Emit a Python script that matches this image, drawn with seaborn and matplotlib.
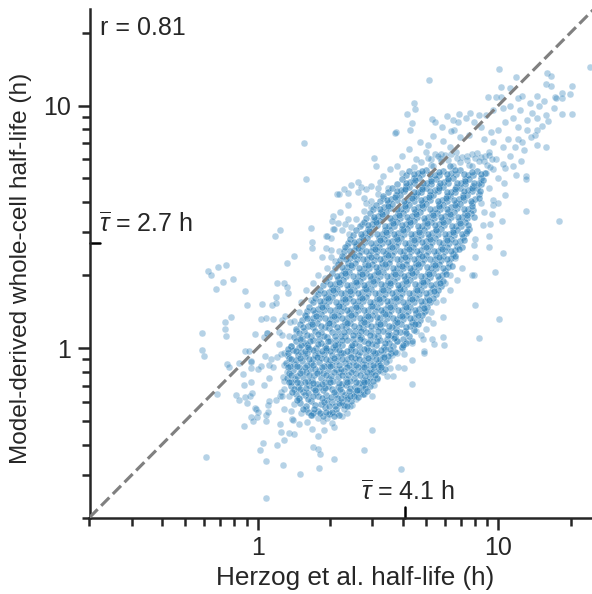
import matplotlib
matplotlib.use("Agg")
import numpy as np
import pandas as pd
import seaborn as sns
import matplotlib.pyplot as plt
from matplotlib.ticker import FixedLocator, FixedFormatter, LogLocator, NullFormatter

# All pairs are (log10 Herzog half-life, log10 model half-life).
# sparse_* : outlying points (a few in the fringe are estimates).
# core_*   : NOT individual readings. The reference's dense centre holds thousands of overlapping
#            points that cannot be read, so these are far fewer hand-placed, roughly evenly spaced
#            points that only reproduce the outline and colour of that cloud, drawn at higher alpha.
sparse_low_left = [
(-.207,.317),(-.195,.303),(-.165,.335),(-.13,.344),(-.144,.273),(-.102,.286),(-.173,.244),(-.054,.234),(-.046,.179),
(-.111,.129),(-.136,.106),(-.136,.08),(-.132,.048),(-.232,.061),(-.232,-.008),(-.225,-.033),(-.126,-.067),(-.12,-.08),
(-.078,-.061),(-.061,-.109),(-.057,-.153),(-.029,-.142),(-.028,-.081),(-.029,-.057),(-.027,-.054),(-.053,-.012),(-.034,-.011),
(-.012,.058),(.014,.121),(.036,.123),(.065,.119),(.019,.183),(.058,.179),(.078,.187),(.076,.211),(.082,.27),(.109,.267),
(.123,.251),(.126,.226),(.122,.351),(.037,.063),(.04,.06),(.026,.044),(.1,.116),(.112,.132),(.133,.107),(.09,.067),(.102,.052),
(.087,.017),(.029,-.033),(.012,-.074),(.003,-.086),(.057,-.045),(.047,-.072),(.065,-.077),(.082,-.036),(.095,-.026),(.11,-.022),
(.046,-.123),(.026,-.154),(.105,-.121),(.111,-.135),(-.167,-.191),(-.09,-.193),(-.076,-.215),(-.053,-.202),(-.045,-.226),
(-.033,-.198),(-.022,-.187),(-.011,-.247),(-.008,-.252),(.001,-.264),(-.026,-.285),(-.018,-.302),(-.001,-.284),(-.058,-.321),
(.036,-.3),(.036,-.278),(.043,-.263),(.043,-.233),(.049,-.22),(.076,-.215),(.091,-.198),(.095,-.18),(.1,-.2),(.109,-.253),
(.093,-.313),(.098,-.347),(.111,-.379),(.131,-.352),(.151,-.354),(.08,-.398),(.021,-.39),(.011,-.419),(.033,-.464),(.105,-.481),
(-.213,-.45),(.034,-.617),(.177,-.518),(.254,-.493),(.317,-.457),(.232,-.408),(.249,-.417),(.261,-.439),(.252,-.361),(.17,-.314),
(.141,-.293),(.145,-.298),(.206,-.305),(.225,-.332),(.275,-.339),(.317,-.325),(.224,-.277),
]
sparse_low_right = [
(.988,.313),(.898,.302),(.89,.302),(.902,.176),(1.003,.119),(.92,.043),(.772,.128),(.707,.119),(.727,.105),(.769,.047),(.773,.011),
(.726,.038),(.734,.015),(.693,-.012),(.69,-.02),(.68,.052),(.688,.038),(.642,-.051),(.64,.022),(.621,.029),(.61,-.024),(.58,-.022),
(.607,-.083),(.582,-.077),(.545,-.05),(.548,-.081),(.538,-.117),(.561,-.117),(.642,-.15),(.508,-.091),(.494,-.127),(.47,-.105),
(.483,-.154),(.434,-.16),(.407,-.178),(.427,-.187),(.476,-.2),(.393,-.237),(.372,-.266),(.344,-.237),(.372,-.201),(.474,-.34),
(.441,-.421),(.595,-.497),(.36,-.25),(.385,-.24),(.35,-.28),(.33,-.27),(.31,-.31),(.29,-.29),(.27,-.3),(.25,-.29),(.3,-.27),
(.66,.07),(.7,.08),(.65,.1),(.72,.15),(.69,.15),(.74,.19),(.77,.2),(.8,.24),(.78,.27),(.83,.28),(.8,.3),(.85,.33),(.82,.37),
(.58,.03),(.6,.0),(.56,-.03),(.52,-.04),(.5,-.07),(.52,-.1),(.46,-.14),(.44,-.19),(.41,-.21),
]
sparse_top = [
(1.382,1.158),(1.003,1.149),(.711,1.106),(1.073,1.118),(1.203,1.132),(1.221,1.12),(1.2,1.087),(1.22,1.08),(1.01,1.077),(1.05,1.074),
(1.308,1.08),(1.297,1.048),(1.264,1.052),(1.235,1.036),(1.24,1.03),(1.264,1.032),(1.266,.964),(1.307,.966),(1.205,.935),(1.181,.917),
(1.163,.836),(1.2,.829),(1.154,.88),(1.135,.87),(.956,1.036),(.99,1.037),(1.01,1.037),(1.253,.524),(1.117,.565),(1.015,.524),(.937,.507),
(.966,.512),(.963,.463),(.963,.417),(1.018,.393),(.905,.377),(.898,.426),(.905,.45),(.974,.554),(.978,.59),(.978,.612),(1.024,.68),
(1.115,.711),(1.115,.695),(1.073,.715),(1.061,.749),(1.093,.773),(1.105,.818),(1.069,.83),(1.028,.741),(.649,1.01),(.654,.986),(.621,.964),
(.64,.928),(.634,.898),(.576,.891),(.57,.885),(.723,.946),(.738,.931),(.768,.912),(.787,.955),(.811,.939),(.836,.964),(.832,.93),(.881,.971),
(.867,.95),(.815,.898),(.805,.893),(.485,.782),(.492,.752),(.676,.848),(.71,.838),(.729,.873),(.77,.855),(.522,.711),(.51,.683),(.418,.686),
(.39,.671),(.358,.657),(.43,.665),(.451,.656),(.417,.645),(.375,.64),(.501,.636),(.44,.62),(.45,.60),(.47,.605),(.376,.59),(.344,.559),
(.444,.563),(.473,.58),(.375,.533),(.407,.534),(.432,.512),(.365,.51),(.39,.5),(.352,.485),(.38,.47),(.191,.847),(.202,.698),(.329,.633),
(.337,.633),(.312,.545),(.31,.525),(.335,.515),(.22,.495),(.093,.488),(.073,.463),(.312,.492),(.316,.49),(.282,.463),(.288,.46),(.304,.455),
(.225,.437),(.224,.412),(.282,.414),(.305,.405),(.151,.379),(.266,.375),(.305,.376),
(1.05,1.0),(1.08,1.03),(1.1,1.04),(1.13,1.01),(1.16,1.04),(1.17,1.0),(1.19,1.02),(1.23,.99),(1.2,.96),(1.14,.97),(1.09,.98),(1.06,.95),
(1.12,.94),(1.16,.95),(1.02,.99),(.98,.98),(.95,.96),(.92,.96),(1.03,.93),(1.08,.91),(1.12,.9),(1.16,.9),(1.0,.9),(.97,.89),(.93,.91),
(.9,.93),(1.04,.86),(1.08,.86),(1.1,.85),(1.02,.83),(.98,.85),(.94,.86),(1.05,.79),(1.02,.76),(.99,.78),(.96,.81),(.72,.78),(.76,.8),
(.7,.81),(.66,.78),(.63,.82),(.8,.83),(.84,.87),(.88,.88),(.6,.79),(.55,.74),(.58,.75),(.6,.72),(.54,.66),(.47,.67),(.5,.66),(.52,.62),
(.48,.53),(.41,.43),(.37,.42),(.36,.38),(.34,.4),(.32,.36),(.29,.33),(.28,.29),(.25,.3),(.23,.27),(.24,.23),(.2,.24),(.22,.2),(.18,.19),
(.17,.15),(.2,.13),(.15,.11),(.16,.07),(.13,.05),(.14,.01),(.12,-.03),(.11,-.07),(.12,-.1),(.11,-.17),(.13,-.2),(.15,-.23),(.14,-.26),
(.18,-.27),(.2,-.25),(.17,-.21),(1.0,.7),(1.03,.63),(1.0,.6),(.96,.66),(.98,.74),(.95,.72),(.94,.56),(.93,.6),
(.735,.8),(.78,.795),(.825,.81),(.87,.79),(.91,.805),(.945,.79),(.758,.785),(.802,.8),(.848,.788),(.89,.8),(.928,.786),(.962,.796),
(.71,.782),(.75,.79),(.79,.775),(.83,.785),(.87,.775),(.905,.785),(.94,.772),(.975,.78),(.68,.765),(.76,.77),(.84,.765),(.92,.77),
(.955,.755),(.72,.755),(.88,.755),(.65,.748),(.73,.752),(.81,.75),(.89,.752),(.965,.745),
]
core_low = [
(.23,-.27),(.27,-.28),(.31,-.265),(.34,-.275),(.2,-.24),(.24,-.235),(.28,-.245),(.32,-.24),(.36,-.235),
(.17,-.205),(.21,-.21),(.25,-.2),(.29,-.215),(.33,-.205),(.37,-.21),(.4,-.2),
(.15,-.17),(.19,-.18),(.23,-.165),(.27,-.175),(.31,-.17),(.35,-.18),(.385,-.165),(.42,-.175),(.445,-.165),
(.14,-.14),(.175,-.145),(.21,-.135),(.245,-.15),(.28,-.14),(.315,-.135),(.35,-.15),(.385,-.135),(.42,-.145),(.455,-.135),
(.13,-.105),(.165,-.115),(.2,-.1),(.235,-.11),(.27,-.105),(.305,-.115),(.34,-.1),(.375,-.11),(.41,-.105),(.445,-.115),(.475,-.1),
(.135,-.075),(.17,-.08),(.205,-.07),(.24,-.085),(.275,-.075),(.31,-.07),(.345,-.085),(.38,-.07),(.415,-.08),(.45,-.07),(.485,-.08),(.51,-.07),
(.13,-.04),(.16,-.05),(.195,-.035),(.23,-.045),(.265,-.04),(.3,-.05),(.335,-.035),(.37,-.045),(.405,-.04),(.44,-.05),(.475,-.035),(.51,-.045),(.54,-.035),
(.145,-.01),(.18,-.015),(.215,-.005),(.25,-.02),(.285,-.01),(.32,-.005),(.355,-.02),(.39,-.005),(.425,-.015),(.46,-.01),(.495,-.02),(.53,-.005),(.57,-.015),
(.16,.03),(.195,.02),(.23,.035),(.265,.02),(.3,.03),(.335,.015),(.37,.035),(.405,.02),(.44,.03),(.475,.015),(.51,.035),(.545,.02),(.58,.03),(.615,.02),
(.17,.06),(.205,.055),(.24,.07),(.275,.05),(.31,.065),(.345,.05),(.38,.07),(.415,.055),(.45,.065),(.485,.05),(.52,.07),(.555,.055),(.59,.065),(.63,.05),
(.175,.1),(.21,.09),(.245,.105),(.28,.085),(.315,.1),(.35,.09),(.385,.105),(.42,.085),(.455,.1),(.49,.09),(.525,.105),(.56,.085),(.595,.1),(.635,.09),(.665,.1),
(.195,.135),(.23,.125),(.265,.14),(.3,.12),(.335,.135),(.37,.125),(.405,.14),(.44,.12),(.475,.135),(.51,.125),(.545,.14),(.58,.12),(.615,.135),(.65,.125),(.685,.135),
(.215,.17),(.25,.16),(.285,.175),(.32,.155),(.355,.17),(.39,.16),(.425,.175),(.46,.155),(.495,.17),(.53,.16),(.565,.175),(.6,.155),(.635,.17),(.67,.16),(.705,.17),
(.24,.205),(.275,.195),(.31,.21),(.345,.19),(.38,.205),(.415,.195),(.45,.21),(.485,.19),(.52,.205),(.555,.195),(.59,.21),(.625,.19),(.66,.205),(.695,.195),(.73,.205),
(.26,.24),(.295,.23),(.33,.245),(.365,.225),(.4,.24),(.435,.23),(.47,.245),(.505,.225),(.54,.24),(.575,.23),(.61,.245),(.645,.225),(.68,.24),(.715,.23),(.75,.24),
]
core_high = [
(.285,.275),(.32,.265),(.355,.28),(.39,.26),(.425,.275),(.46,.265),(.495,.28),(.53,.26),(.565,.275),(.6,.265),(.635,.28),(.67,.26),(.705,.275),(.74,.265),(.77,.275),
(.31,.31),(.345,.3),(.38,.315),(.415,.295),(.45,.31),(.485,.3),(.52,.315),(.555,.295),(.59,.31),(.625,.3),(.66,.315),(.695,.295),(.73,.31),(.765,.3),
(.335,.345),(.37,.335),(.405,.35),(.44,.33),(.475,.345),(.51,.335),(.545,.35),(.58,.33),(.615,.345),(.65,.335),(.685,.35),(.72,.33),(.755,.345),(.79,.335),
(.35,.38),(.385,.37),(.42,.385),(.455,.365),(.49,.38),(.525,.37),(.56,.385),(.595,.365),(.63,.38),(.665,.37),(.7,.385),(.735,.365),(.77,.38),(.805,.37),
(.365,.415),(.4,.405),(.435,.42),(.47,.4),(.505,.415),(.54,.405),(.575,.42),(.61,.4),(.645,.415),(.68,.405),(.715,.42),(.75,.4),(.785,.415),(.82,.405),(.85,.415),
(.385,.45),(.42,.44),(.455,.455),(.49,.435),(.525,.45),(.56,.44),(.595,.455),(.63,.435),(.665,.45),(.7,.44),(.735,.455),(.77,.435),(.805,.45),(.84,.44),
(.41,.485),(.445,.475),(.48,.49),(.515,.47),(.55,.485),(.585,.475),(.62,.49),(.655,.47),(.69,.485),(.725,.475),(.76,.49),(.795,.47),(.83,.485),(.865,.475),
(.44,.52),(.475,.51),(.51,.525),(.545,.505),(.58,.52),(.615,.51),(.65,.525),(.685,.505),(.72,.52),(.755,.51),(.79,.525),(.825,.505),(.86,.52),
(.465,.555),(.5,.545),(.535,.56),(.57,.54),(.605,.555),(.64,.545),(.675,.56),(.71,.54),(.745,.555),(.78,.545),(.815,.56),(.85,.54),(.885,.555),
(.49,.59),(.525,.58),(.56,.595),(.595,.575),(.63,.59),(.665,.58),(.7,.595),(.735,.575),(.77,.59),(.805,.58),(.84,.595),(.875,.575),
(.52,.625),(.555,.615),(.59,.63),(.625,.61),(.66,.625),(.695,.615),(.73,.63),(.765,.61),(.8,.625),(.835,.615),(.87,.63),(.905,.615),
(.56,.66),(.595,.65),(.63,.665),(.665,.645),(.7,.66),(.735,.65),(.77,.665),(.805,.645),(.84,.66),(.875,.65),(.91,.66),
(.6,.695),(.635,.685),(.67,.7),(.705,.68),(.74,.695),(.775,.685),(.81,.7),(.845,.68),(.88,.695),(.92,.68),
(.63,.73),(.665,.72),(.7,.735),(.735,.715),(.77,.73),(.805,.72),(.84,.735),(.875,.715),(.91,.73),(.945,.72),
(.8,.75),
]
core_fill = [
(.21,-.262),(.252,-.258),(.296,-.272),(.327,-.253),(.176,-.226),(.223,-.218),(.262,-.229),(.307,-.222),(.349,-.221),(.388,-.218),
(.158,-.189),(.197,-.195),(.243,-.183),(.283,-.193),(.326,-.188),(.361,-.193),(.402,-.186),(.438,-.19),
(.137,-.158),(.169,-.162),(.214,-.152),(.256,-.161),(.293,-.155),(.333,-.16),(.368,-.152),(.405,-.16),(.436,-.152),(.468,-.157),
(.122,-.125),(.156,-.128),(.19,-.12),(.227,-.13),(.263,-.122),(.297,-.127),(.332,-.118),(.367,-.128),(.401,-.122),(.437,-.13),(.465,-.118),(.494,-.122),
(.147,-.09),(.183,-.093),(.218,-.087),(.256,-.094),(.291,-.09),(.325,-.085),(.36,-.093),(.396,-.088),(.432,-.092),(.468,-.086),(.5,-.093),(.528,-.085),
(.118,-.06),(.151,-.066),(.186,-.055),(.222,-.062),(.257,-.057),(.292,-.064),(.327,-.054),(.362,-.06),(.397,-.058),(.433,-.066),(.466,-.054),(.501,-.062),(.535,-.056),
(.124,-.022),(.166,-.03),(.204,-.02),(.24,-.027),(.275,-.025),(.31,-.03),(.346,-.02),(.382,-.026),(.416,-.028),(.452,-.03),(.487,-.022),(.521,-.024),(.556,-.02),
(.138,.01),(.17,.005),(.207,.012),(.243,.002),(.279,.008),(.314,.003),(.35,.012),(.386,.003),(.42,.008),(.456,.001),(.492,.012),(.527,.004),(.563,.01),(.598,.003),
(.15,.045),(.186,.04),(.222,.05),(.255,.036),(.29,.046),(.325,.034),(.361,.05),(.396,.038),(.431,.047),(.466,.034),(.5,.05),(.536,.037),(.57,.047),(.605,.036),(.64,.03),
(.16,.078),(.194,.072),(.23,.085),(.263,.068),(.298,.082),(.333,.07),(.368,.086),(.403,.072),(.437,.082),(.472,.07),(.507,.085),(.542,.072),(.577,.082),(.612,.07),(.648,.075),
(.185,.115),(.22,.108),(.256,.122),(.292,.104),(.326,.118),(.361,.108),(.396,.122),(.431,.104),(.466,.118),(.5,.108),(.536,.122),(.57,.104),(.606,.118),(.642,.108),(.675,.116),
(.205,.152),(.24,.145),(.276,.158),(.31,.138),(.346,.152),(.38,.144),(.415,.158),(.45,.138),(.486,.152),(.52,.144),(.556,.158),(.59,.138),(.626,.152),(.66,.144),(.696,.152),
(.23,.188),(.264,.178),(.298,.192),(.333,.173),(.368,.188),(.403,.178),(.438,.192),(.473,.173),(.508,.188),(.543,.178),(.578,.192),(.613,.173),(.648,.188),(.684,.178),(.718,.188),
(.25,.222),(.285,.212),(.32,.228),(.355,.208),(.39,.222),(.425,.212),(.46,.228),(.495,.208),(.53,.222),(.565,.212),(.6,.228),(.635,.208),(.67,.222),(.705,.212),(.74,.222),
(.272,.258),(.307,.248),(.342,.262),(.377,.243),(.412,.258),(.447,.248),(.482,.262),(.517,.243),(.552,.258),(.587,.248),(.622,.262),(.657,.243),(.692,.258),(.727,.248),(.762,.255),
(.298,.292),(.333,.283),(.368,.298),(.403,.278),(.438,.292),(.473,.283),(.508,.298),(.543,.278),(.578,.292),(.613,.283),(.648,.298),(.683,.278),(.718,.292),(.753,.283),
(.322,.328),(.357,.318),(.392,.332),(.427,.313),(.462,.328),(.497,.318),(.532,.332),(.567,.313),(.602,.328),(.637,.318),(.672,.332),(.707,.313),(.742,.328),(.778,.318),
(.342,.362),(.377,.352),(.412,.368),(.447,.348),(.482,.362),(.517,.352),(.552,.368),(.587,.348),(.622,.362),(.657,.352),(.692,.368),(.727,.348),(.762,.362),(.797,.352),
(.358,.398),(.392,.388),(.428,.402),(.462,.383),(.497,.398),(.532,.388),(.567,.402),(.602,.383),(.637,.398),(.672,.388),(.707,.402),(.742,.383),(.777,.398),(.812,.388),
(.376,.432),(.41,.422),(.446,.438),(.48,.418),(.515,.432),(.55,.422),(.585,.438),(.62,.418),(.655,.432),(.69,.422),(.725,.438),(.76,.418),(.795,.432),(.83,.422),
(.398,.468),(.432,.458),(.468,.472),(.503,.453),(.538,.468),(.573,.458),(.608,.472),(.643,.453),(.678,.468),(.713,.458),(.748,.472),(.783,.453),(.818,.468),(.853,.458),
(.425,.502),(.46,.492),(.495,.508),(.53,.488),(.565,.502),(.6,.492),(.635,.508),(.67,.488),(.705,.502),(.74,.492),(.775,.508),(.81,.488),(.845,.502),(.878,.492),
(.452,.538),(.487,.528),(.522,.542),(.557,.523),(.592,.538),(.627,.528),(.662,.542),(.697,.523),(.732,.538),(.767,.528),(.802,.542),(.837,.523),(.872,.538),
(.478,.572),(.512,.562),(.548,.578),(.583,.558),(.618,.572),(.653,.562),(.688,.578),(.723,.558),(.758,.572),(.793,.562),(.828,.578),(.863,.558),(.895,.57),
(.508,.608),(.542,.598),(.578,.612),(.613,.593),(.648,.608),(.683,.598),(.718,.612),(.753,.593),(.788,.608),(.823,.598),(.858,.612),(.892,.598),
(.54,.642),(.575,.632),(.61,.648),(.645,.628),(.68,.642),(.715,.632),(.75,.648),(.785,.628),(.82,.642),(.855,.632),(.89,.648),(.92,.635),
(.58,.678),(.615,.668),(.65,.682),(.685,.663),(.72,.678),(.755,.668),(.79,.682),(.825,.663),(.86,.678),(.895,.668),(.93,.675),
(.615,.712),(.65,.702),(.685,.718),(.72,.698),(.755,.712),(.79,.702),(.825,.718),(.86,.698),(.895,.712),(.93,.702),
]
core_gaps = [
(.18,.012),(.21,.004),(.25,.017),(.282,.0),(.322,.012),(.35,.032),(.392,.014),(.425,.038),(.46,.02),(.497,.028),(.53,.02),(.568,.04),(.605,.012),
(.178,.036),(.216,.03),(.25,.056),(.291,.03),(.322,.05),(.358,.068),(.395,.055),(.428,.07),(.468,.052),(.5,.07),(.54,.052),(.575,.067),(.615,.06),
(.19,.085),(.226,.1),(.262,.09),(.298,.105),(.33,.088),(.37,.102),(.402,.09),(.44,.108),(.472,.092),(.51,.098),(.545,.09),(.58,.108),(.618,.085),(.655,.098),
(.206,.125),(.244,.13),(.28,.122),(.318,.134),(.352,.125),(.386,.138),(.424,.122),(.458,.132),(.494,.128),(.528,.142),(.564,.122),(.6,.134),(.632,.125),(.668,.138),
(.23,.158),(.268,.17),(.302,.156),(.338,.172),(.372,.158),(.408,.17),(.442,.155),(.476,.172),(.512,.158),(.548,.17),(.582,.156),(.618,.168),(.654,.158),(.69,.165),
(.258,.195),(.294,.206),(.326,.19),(.362,.202),(.398,.192),(.432,.208),(.468,.19),(.504,.202),(.538,.194),(.574,.208),(.606,.19),(.642,.204),(.678,.192),(.712,.2),
(.276,.228),(.312,.24),(.348,.226),(.382,.236),(.418,.228),(.452,.242),(.488,.226),(.522,.238),(.558,.226),(.592,.242),(.628,.226),(.662,.238),(.698,.228),(.732,.236),
(.302,.262),(.338,.274),(.372,.26),(.408,.272),(.442,.26),(.478,.276),(.512,.262),(.548,.27),(.582,.26),(.618,.276),(.652,.262),(.688,.272),(.722,.26),(.758,.27),
(.328,.298),(.362,.31),(.398,.296),(.432,.306),(.468,.296),(.502,.312),(.538,.298),(.572,.306),(.608,.296),(.642,.31),(.678,.298),(.712,.306),(.748,.296),(.782,.304),
(.352,.332),(.388,.344),(.422,.33),(.458,.342),(.492,.332),(.528,.346),(.562,.33),(.598,.34),(.632,.33),(.668,.345),(.702,.332),(.738,.342),(.772,.33),(.808,.34),
(.368,.368),(.402,.378),(.438,.366),(.472,.376),(.508,.366),(.542,.382),(.578,.368),(.612,.376),(.648,.366),(.682,.38),(.718,.368),(.752,.376),(.788,.366),(.822,.378),
(.382,.402),(.418,.412),(.452,.4),(.488,.41),(.522,.402),(.558,.416),(.592,.4),(.628,.41),(.662,.4),(.698,.416),(.732,.402),(.768,.41),(.802,.402),(.838,.41),
(.402,.436),(.438,.448),(.472,.434),(.508,.446),(.542,.436),(.578,.45),(.612,.434),(.648,.446),(.682,.436),(.718,.45),(.752,.438),(.788,.446),(.822,.436),(.858,.444),
(.428,.472),(.462,.482),(.498,.47),(.532,.48),(.568,.47),(.602,.486),(.638,.472),(.672,.48),(.708,.47),(.742,.486),(.778,.472),(.812,.48),(.848,.47),(.872,.482),
(.458,.506),(.492,.518),(.528,.504),(.562,.514),(.598,.506),(.632,.52),(.668,.504),(.702,.514),(.738,.506),(.772,.52),(.808,.504),(.842,.514),(.874,.506),
(.482,.54),(.518,.552),(.552,.538),(.588,.55),(.622,.54),(.658,.554),(.692,.538),(.728,.548),(.762,.54),(.798,.554),(.832,.54),(.868,.548),(.898,.54),
(.508,.574),(.542,.586),(.578,.572),(.612,.584),(.648,.574),(.682,.588),(.718,.572),(.752,.584),(.788,.574),(.822,.588),(.858,.572),(.892,.584),
(.538,.61),(.572,.622),(.608,.608),(.642,.62),(.678,.61),(.712,.624),(.748,.608),(.782,.62),(.818,.61),(.852,.622),(.888,.608),(.918,.62),
(.578,.646),(.612,.656),(.648,.644),(.682,.654),(.718,.646),(.752,.66),(.788,.644),(.822,.654),(.858,.646),(.892,.658),(.925,.648),
(.618,.682),(.652,.692),(.688,.68),(.722,.69),(.758,.682),(.792,.696),(.828,.68),(.862,.69),(.898,.682),(.935,.692),
(.648,.718),(.682,.728),(.718,.716),(.752,.726),(.788,.716),(.822,.732),(.858,.716),(.892,.726),(.928,.716),
]
core_lower_gaps = [
(.222,-.278),(.26,-.268),(.284,-.262),(.318,-.282),(.19,-.25),(.234,-.252),(.274,-.222),(.296,-.24),(.338,-.228),(.37,-.24),
(.165,-.215),(.208,-.186),(.232,-.198),(.268,-.206),(.306,-.204),(.346,-.208),(.382,-.196),(.418,-.202),
(.144,-.182),(.178,-.17),(.202,-.166),(.24,-.172),(.28,-.165),(.318,-.18),(.342,-.168),(.378,-.178),(.412,-.172),(.454,-.178),
(.131,-.142),(.162,-.142),(.196,-.14),(.232,-.145),(.268,-.148),(.3,-.14),(.338,-.145),(.372,-.14),(.41,-.14),(.444,-.142),(.478,-.138),
(.138,-.112),(.176,-.105),(.212,-.112),(.246,-.102),(.282,-.112),(.316,-.1),(.352,-.112),(.388,-.1),(.424,-.11),(.456,-.1),(.486,-.112),
(.126,-.08),(.162,-.074),(.196,-.08),(.232,-.072),(.268,-.08),(.302,-.076),(.338,-.07),(.372,-.08),(.408,-.072),(.442,-.08),(.478,-.07),(.514,-.08),
(.14,-.045),(.176,-.04),(.212,-.044),(.248,-.038),(.282,-.046),(.316,-.04),(.352,-.045),(.388,-.038),(.422,-.046),(.458,-.04),(.492,-.046),(.526,-.038),
(.128,-.005),(.16,-.012),(.196,-.012),(.232,-.008),(.266,-.012),(.302,-.012),(.338,-.008),(.372,-.012),(.406,-.012),(.442,-.006),(.478,-.012),(.512,-.01),(.55,-.006),
]

def hours(pairs):
    return pd.DataFrame({"x": [10 ** p[0] for p in pairs], "y": [10 ** p[1] for p in pairs]})

sparse = hours(sparse_low_left + sparse_low_right + sparse_top)
core = hours(core_fill + core_low + core_lower_gaps + core_high + core_gaps)

sns.set_style("ticks")
plt.rcParams["font.family"] = ["Liberation Sans", "DejaVu Sans"]
plt.rcParams["mathtext.fontset"] = "custom"
plt.rcParams["mathtext.it"] = "Liberation Sans:italic"
plt.rcParams["mathtext.rm"] = "Liberation Sans"
plt.rcParams["mathtext.fallback"] = "stixsans"
INK = "#262626"

fig = plt.figure(figsize=(5.92, 5.94), dpi=100)
ax = fig.add_axes([89.5 / 592, 1 - 517.5 / 594, 504.5 / 592, 508.5 / 594])

sns.scatterplot(data=sparse, x="x", y="y", color="#1f77b4", alpha=0.33, s=24,
                edgecolor="white", linewidth=0.4, ax=ax, zorder=2)
sns.scatterplot(data=core, x="x", y="y", color="#1f77b4", alpha=0.5, s=25,
                edgecolor="white", linewidth=0.35, ax=ax, zorder=2)
ax.plot([0.2, 25], [0.2, 25], ls="--", color="#808080", lw=2.25, zorder=3)

ax.set_xscale("log")
ax.set_yscale("log")
ax.set_xlim(0.2, 25)
ax.set_ylim(0.2, 25)
sns.despine(ax=ax)
for s in ("left", "bottom"):
    ax.spines[s].set_linewidth(1.8)
    ax.spines[s].set_color(INK)

for axis in (ax.xaxis, ax.yaxis):
    axis.set_major_locator(FixedLocator([1, 10]))
    axis.set_major_formatter(FixedFormatter(["1", "10"]))
    axis.set_minor_locator(LogLocator(base=10, subs=[2, 3, 4, 5, 6, 7, 8, 9]))
    axis.set_minor_formatter(NullFormatter())
ax.tick_params(which="major", length=8.5, width=1.8, color=INK, labelsize=18, labelcolor=INK, pad=5)
ax.tick_params(which="minor", length=5.8, width=1.8, color=INK)

ax.set_xlabel("Herzog et al. half-life (h)", fontsize=18.8, color=INK)
ax.set_ylabel("Model-derived whole-cell half-life (h)", fontsize=17.6, color=INK)
ax.xaxis.set_label_coords((355 - 89.5) / 504.5, -(578 - 517.5) / 508.5)
ax.xaxis.label.set_va("center")
ax.yaxis.set_label_coords(-(89.5 - 21) / 504.5, (517.5 - 268) / 508.5)
ax.yaxis.label.set_va("center")

mean_x, mean_y = 4.1, 2.7
ax.plot([mean_x, mean_x], [0, 0.02], transform=ax.get_xaxis_transform(), color="black", lw=1.8, clip_on=False)
ax.plot([0, 0.02], [mean_y, mean_y], transform=ax.get_yaxis_transform(), color="black", lw=1.8, clip_on=False)

ax.text((100 - 89.5) / 504.5, (517.5 - 28) / 508.5, "r = 0.81", transform=ax.transAxes, fontsize=18,
        color=INK, va="center", ha="left")
ax.text((99 - 89.5) / 504.5, (517.5 - 224) / 508.5, r"$\overline{\tau}$ = 2.7 h", transform=ax.transAxes,
        fontsize=18, color=INK, va="center", ha="left")
ax.text((361 - 89.5) / 504.5, (517.5 - 492) / 508.5, r"$\overline{\tau}$ = 4.1 h", transform=ax.transAxes,
        fontsize=18, color=INK, va="center", ha="left")

fig.savefig("out.png", dpi=100)
